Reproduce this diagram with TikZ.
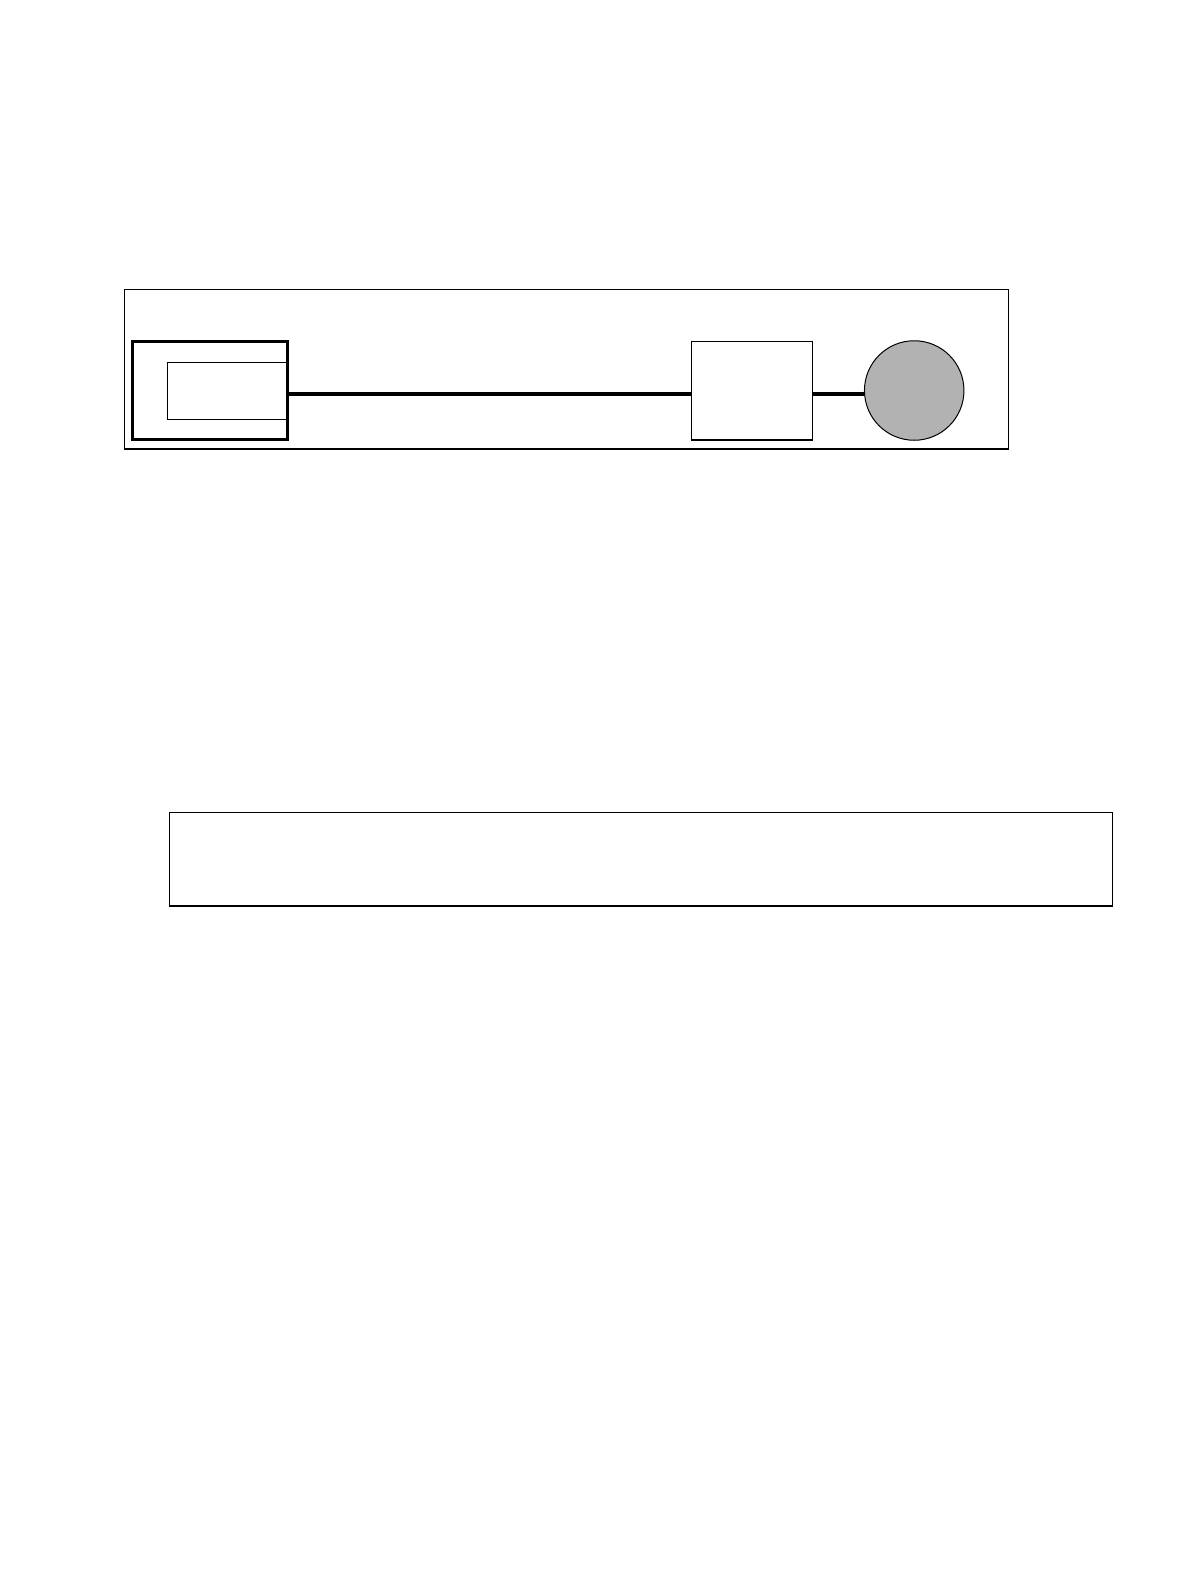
\documentclass[tikz,border=0pt]{standalone}
\usepackage{tikz}

\begin{document}
\begin{tikzpicture}[x=1pt,y=-1pt,
    box/.style={draw,rectangle,inner sep=0pt,outer sep=0pt,line width=1.3pt},
    wire/.style={line width=4pt}]
    \useasboundingbox (0,0) rectangle (1190,1582);
    % frame round the chain
    \node[box,minimum width=884.4pt,minimum height=159.7pt] (panel) at (566.5,369.15) {};
    \node[box,line width=2.7pt,minimum width=155.4pt,minimum height=98.4pt] (unit) at (210,390.5) {};
    \node[box,minimum width=120.4pt,minimum height=57pt] (slot) at (227.5,390.8) {};
    \node[box,minimum width=121pt,minimum height=98.7pt] (ctrl) at (751.8,390.5) {};
    \node[draw,circle,fill=black!30,inner sep=0pt,outer sep=0pt,line width=1pt,minimum size=99.5pt] (lamp) at (914.2,390.5) {};
    \draw[wire] ([yshift=-3pt]unit.east) -- ([yshift=-3pt]ctrl.west);
    \draw[wire] ([yshift=-3pt]ctrl.east) -- ([yshift=-3pt]lamp.west);
    % empty box below
    \node[box,minimum width=943.4pt,minimum height=93.7pt] (note) at (641,859.15) {};
\end{tikzpicture}
\end{document}
